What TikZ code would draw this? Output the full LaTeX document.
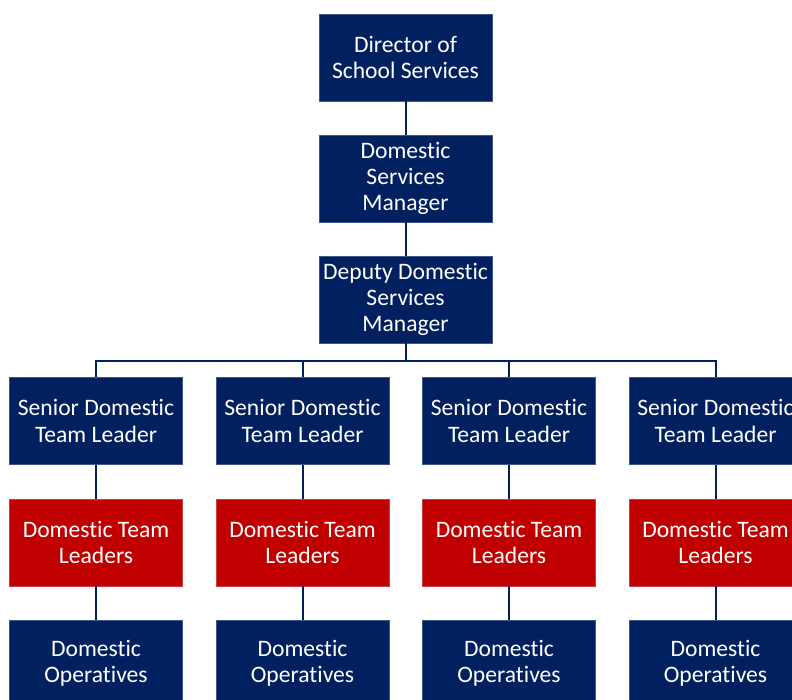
\documentclass[tikz,border=0pt]{standalone}
\usepackage{fontspec}
\setmainfont{Carlito}[Ligatures={NoCommon}]
\usepackage{tikz}
\definecolor{navy}{RGB}{0, 32, 96}
\definecolor{crimson}{RGB}{192, 0, 0}
\usetikzlibrary{positioning}

\begin{document}
\begin{tikzpicture}[
  every node/.style={inner sep=0pt},
  post/.style={rectangle, minimum width=173pt, minimum height=87pt, align=center, text=white, font=\fontsize{23.6}{26.3}\selectfont, line width=0.6pt},
  blue post/.style={post, fill=navy, draw=navy!75!white},
  red post/.style={post, fill=crimson, draw=crimson!75!white},
  link/.style={line width=2pt, color=navy}]
\useasboundingbox (0pt, 0pt) rectangle (792pt, -700pt);
\clip (0pt, 0pt) rectangle (792pt, -700pt);
% management chain
\node (dir) [blue post] at (405.5pt, -57.5pt) {Director of\\School Services};
\node (dsm) [blue post] at (405.5pt, -178.5pt) {Domestic\\Services\\Manager};
\node (ddsm) [blue post] at (405.5pt, -299.5pt) {Deputy Domestic\\Services\\Manager};
% senior team leaders
\node (sen1) [blue post] at (96.0pt, -421.0pt) {Senior Domestic\\Team Leader};
\node (sen2) [blue post] at (302.5pt, -421.0pt) {Senior Domestic\\Team Leader};
\node (sen3) [blue post] at (509.0pt, -421.0pt) {Senior Domestic\\Team Leader};
\node (sen4) [blue post] at (715.5pt, -421.0pt) {Senior Domestic\\Team Leader};
% team leaders
\node (tl1) [red post] at (96.0pt, -542.5pt) {Domestic Team\\Leaders};
\node (tl2) [red post] at (302.5pt, -542.5pt) {Domestic Team\\Leaders};
\node (tl3) [red post] at (509.0pt, -542.5pt) {Domestic Team\\Leaders};
\node (tl4) [red post] at (715.5pt, -542.5pt) {Domestic Team\\Leaders};
% operatives
\node (op1) [blue post] at (96.0pt, -663.5pt) {Domestic\\Operatives};
\node (op2) [blue post] at (302.5pt, -663.5pt) {Domestic\\Operatives};
\node (op3) [blue post] at (509.0pt, -663.5pt) {Domestic\\Operatives};
\node (op4) [blue post] at (715.5pt, -663.5pt) {Domestic\\Operatives};
\draw [link] (dir) to (dsm);
\draw [link] (dsm) to (ddsm);
\draw [link] (ddsm.south) -- ++(0pt, -17.5pt) -| (sen1.north);
\draw [link] (ddsm.south) -- ++(0pt, -17.5pt) -| (sen2.north);
\draw [link] (ddsm.south) -- ++(0pt, -17.5pt) -| (sen3.north);
\draw [link] (ddsm.south) -- ++(0pt, -17.5pt) -| (sen4.north);
\draw [link] (sen1) to (tl1);
\draw [link] (sen2) to (tl2);
\draw [link] (sen3) to (tl3);
\draw [link] (sen4) to (tl4);
\draw [link] (tl1) to (op1);
\draw [link] (tl2) to (op2);
\draw [link] (tl3) to (op3);
\draw [link] (tl4) to (op4);
\end{tikzpicture}
\end{document}
